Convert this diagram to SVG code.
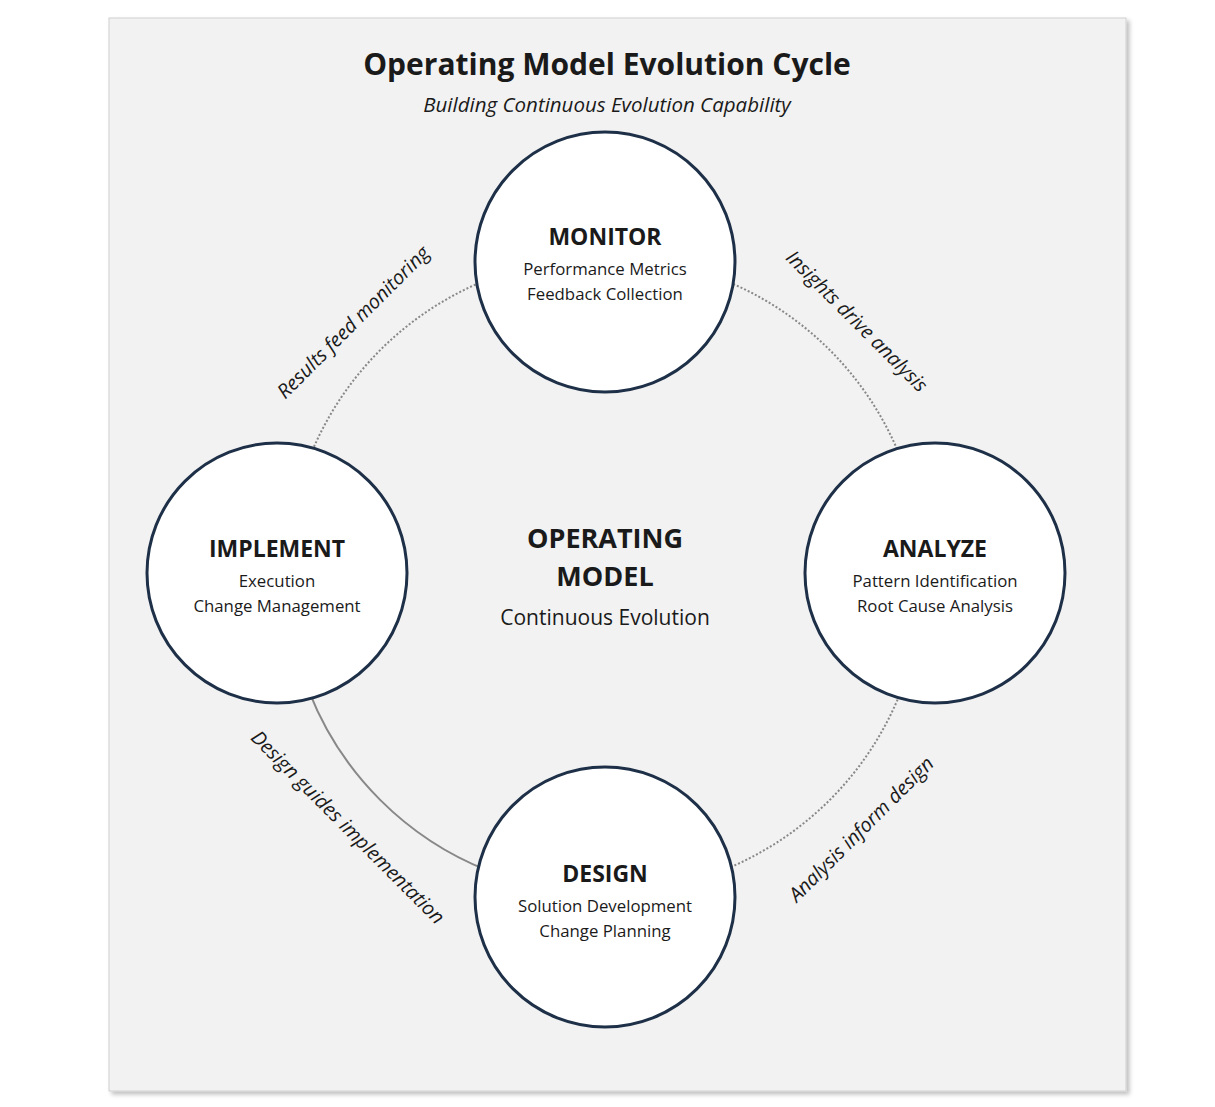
<svg xmlns="http://www.w3.org/2000/svg" width="1215" height="1107" viewBox="0 0 1215 1107">
<style>
text{font-family:"Open Sans","Noto Sans",sans-serif;fill:#1a1a1a;text-anchor:middle}
.node{fill:#fff;stroke:#1e3048;stroke-width:3}
.h{font-size:23px;font-weight:bold}
.s{font-size:16.8px}
.l{font-size:19.8px;font-style:italic}
.arc{fill:none;stroke:#888;stroke-width:2}
.dot{stroke-dasharray:2 2}
</style>
<defs><filter id="sh" x="-5%" y="-5%" width="110%" height="110%"><feDropShadow dx="3" dy="3" stdDeviation="2" flood-color="#000" flood-opacity="0.25"/></filter></defs>
<rect width="1215" height="1107" fill="#fff"/>
<rect x="109" y="18" width="1017" height="1073" fill="#f2f2f2" stroke="#d0d0d0" filter="url(#sh)"/>
<text x="607" y="75" style="font-size:30px;font-weight:bold">Operating Model Evolution Cycle</text>
<text x="607" y="112" style="font-size:20.5px;font-style:italic">Building Continuous Evolution Capability</text>
<g id="connectors">
<path class="arc dot" d="M605 257 A318 318 0 0 1 923 575"/>
<path class="arc dot" d="M923 575 A318 318 0 0 1 605 893"/>
<path class="arc" d="M605 893 A318 318 0 0 1 287 575"/>
<path class="arc dot" d="M287 575 A318 318 0 0 1 605 257"/>
<text class="l" transform="translate(358,327) rotate(-45)">Results feed monitoring</text>
<text class="l" transform="translate(852,326) rotate(45)">Insights drive analysis</text>
<text class="l" transform="translate(866,834) rotate(-45)">Analysis inform design</text>
<text class="l" transform="translate(343,832) rotate(45)">Design guides implementation</text>
</g>
<g id="center">
<text x="605" y="548" style="font-size:27px;font-weight:bold">OPERATING</text>
<text x="605" y="586" style="font-size:27px;font-weight:bold">MODEL</text>
<text x="605" y="625" style="font-size:21px">Continuous Evolution</text>
</g>
<g id="monitor"><circle class="node" cx="605" cy="262" r="130"/>
<text class="h" x="605" y="245">MONITOR</text><text class="s" x="605" y="275">Performance Metrics</text><text class="s" x="605" y="300">Feedback Collection</text></g>
<g id="analyze"><circle class="node" cx="935" cy="573" r="130"/>
<text class="h" x="935" y="557">ANALYZE</text><text class="s" x="935" y="587">Pattern Identification</text><text class="s" x="935" y="612">Root Cause Analysis</text></g>
<g id="implement"><circle class="node" cx="277" cy="573" r="130"/>
<text class="h" x="277" y="557">IMPLEMENT</text><text class="s" x="277" y="587">Execution</text><text class="s" x="277" y="612">Change Management</text></g>
<g id="design"><circle class="node" cx="605" cy="897" r="130"/>
<text class="h" x="605" y="882">DESIGN</text><text class="s" x="605" y="912">Solution Development</text><text class="s" x="605" y="937">Change Planning</text></g>
</svg>
